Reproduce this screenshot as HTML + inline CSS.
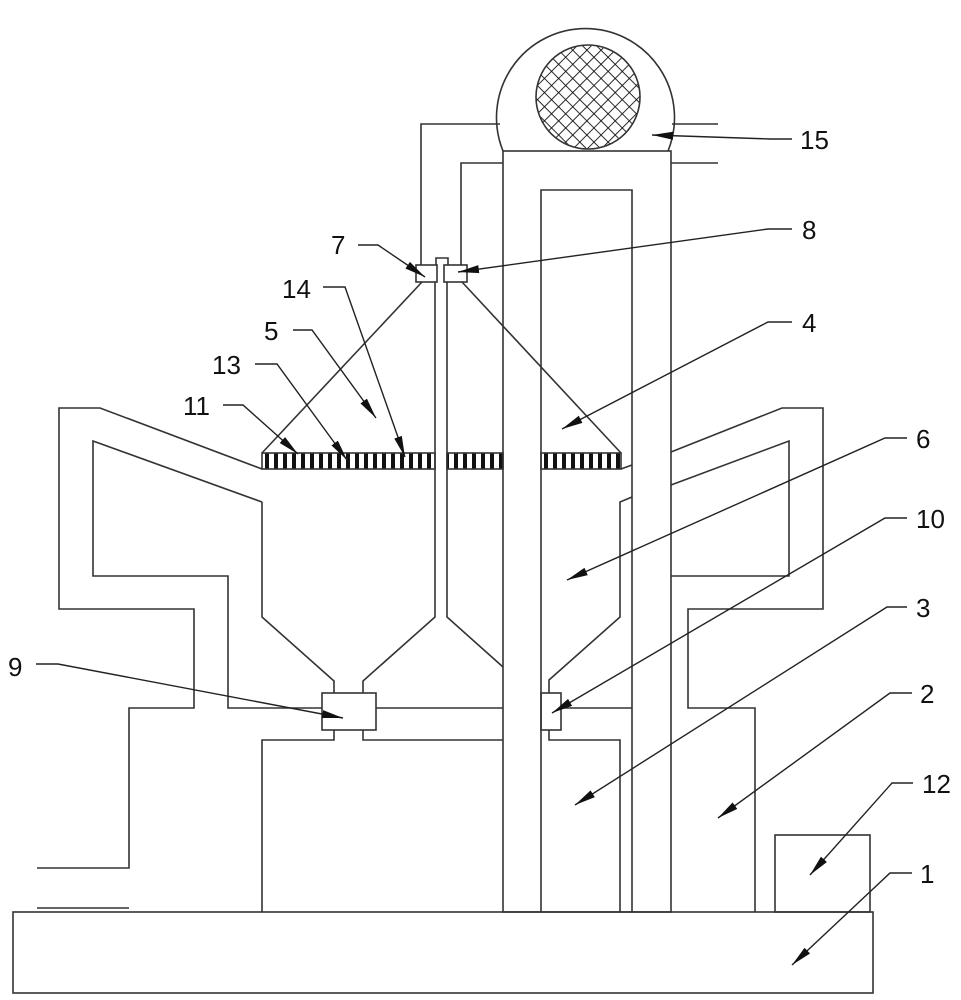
<!DOCTYPE html>
<html><head><meta charset="utf-8"><style>
html,body{margin:0;padding:0;background:#fff}
svg{display:block}
text{font-family:"Liberation Sans",Arial,sans-serif;font-size:26px;fill:#111}
</style></head><body>
<svg width="961" height="1000" viewBox="0 0 961 1000" xmlns="http://www.w3.org/2000/svg">
<defs>
<marker id="a" markerWidth="22" markerHeight="10" refX="21" refY="5" orient="auto" markerUnits="userSpaceOnUse">
<path d="M0,1 L21,5 L0,9 Z" fill="#111"/>
</marker>
<pattern id="h" x="262" y="0" width="9" height="20" patternUnits="userSpaceOnUse">
<rect x="3" y="0" width="4" height="20" fill="#111"/>
</pattern>
<pattern id="x" width="10" height="10" patternUnits="userSpaceOnUse" patternTransform="rotate(45)">
<line x1="0" y1="0" x2="0" y2="10" stroke="#111" stroke-width="1.8"/>
<line x1="0" y1="0" x2="10" y2="0" stroke="#111" stroke-width="1.8"/>
</pattern>
</defs>
<g fill="none" stroke="#333" stroke-width="1.6">
<rect x="13" y="912" width="860" height="81"/>
<rect x="775" y="835" width="95" height="77"/>
<line x1="37" y1="908" x2="129" y2="908"/>
<path d="M 503 151 A 89 89 0 1 1 668 151"/>
<circle cx="588" cy="97" r="52" fill="url(#x)"/>
<rect x="503" y="151" width="168" height="761"/>
<polyline points="541,912 541,190 632,190 632,912"/>
<polyline points="500,124 421,124 421,265"/>
<polyline points="503,163 461,163 461,265"/>
<line x1="672" y1="124" x2="718" y2="124"/>
<line x1="671" y1="163" x2="718" y2="163"/>
<rect x="416" y="265" width="21" height="17"/>
<rect x="444" y="265" width="23" height="17"/>
<polyline points="436,265 436,258 448,258 448,265"/>
<polyline points="435,282 435,617 363,681 363,693"/>
<polyline points="447,282 447,617 503,667"/>
<line x1="422" y1="282" x2="262" y2="453"/>
<line x1="462" y1="282" x2="621" y2="453"/>
<rect x="262" y="453" width="173" height="16" fill="url(#h)"/>
<rect x="447" y="453" width="56" height="16" fill="url(#h)"/>
<rect x="541" y="453" width="80" height="16" fill="url(#h)"/>
<line x1="621" y1="469" x2="632" y2="465"/>
<polyline points="262,469 100,408 59,408 59,609 194,609 194,708 129,708 129,868 37,868"/>
<polyline points="262,502 93,441 93,576 228,576 228,708 322,708"/>
<polyline points="262,502 262,617 334,681 334,693"/>
<rect x="322" y="693" width="54" height="37"/>
<line x1="376" y1="708" x2="503" y2="708"/>
<polyline points="334,730 334,740 262,740 262,912"/>
<polyline points="363,730 363,740 503,740"/>
<polyline points="632,497 620,502 620,617 549,680 549,693"/>
<rect x="541" y="693" width="20" height="37"/>
<line x1="561" y1="708" x2="632" y2="708"/>
<polyline points="549,730 549,740 620,740 620,912"/>
<polyline points="671,452 782,408 823,408 823,609 688,609 688,708 755,708 755,912"/>
<polyline points="671,485 789,441 789,576 671,576"/>
</g>
<g fill="none" stroke="#222" stroke-width="1.4" marker-end="url(#a)">
<polyline points="792,139 770,139 652,135"/>
<polyline points="792,229 768,229 458,272"/>
<polyline points="358,245 378,245 425,277"/>
<polyline points="323,287 345,287 405,457"/>
<polyline points="293,330 312,330 376,418"/>
<polyline points="255,364 277,364 347,460"/>
<polyline points="223,405 243,405 298,454"/>
<polyline points="792,322 768,322 562,429"/>
<polyline points="907,438 885,438 567,580"/>
<polyline points="907,518 885,518 552,713"/>
<polyline points="907,607 887,607 575,805"/>
<polyline points="912,693 890,693 718,818"/>
<polyline points="913,783 892,783 810,875"/>
<polyline points="912,873 890,873 792,965"/>
<polyline points="36,664 58,664 343,718"/>
</g>
<text x="800" y="149">15</text>
<text x="802" y="239">8</text>
<text x="331" y="254">7</text>
<text x="282" y="298">14</text>
<text x="264" y="340">5</text>
<text x="212" y="374">13</text>
<text x="183" y="415">11</text>
<text x="802" y="332">4</text>
<text x="916" y="448">6</text>
<text x="916" y="528">10</text>
<text x="916" y="617">3</text>
<text x="920" y="703">2</text>
<text x="922" y="793">12</text>
<text x="920" y="883">1</text>
<text x="8" y="676">9</text>
</svg>
</body></html>
